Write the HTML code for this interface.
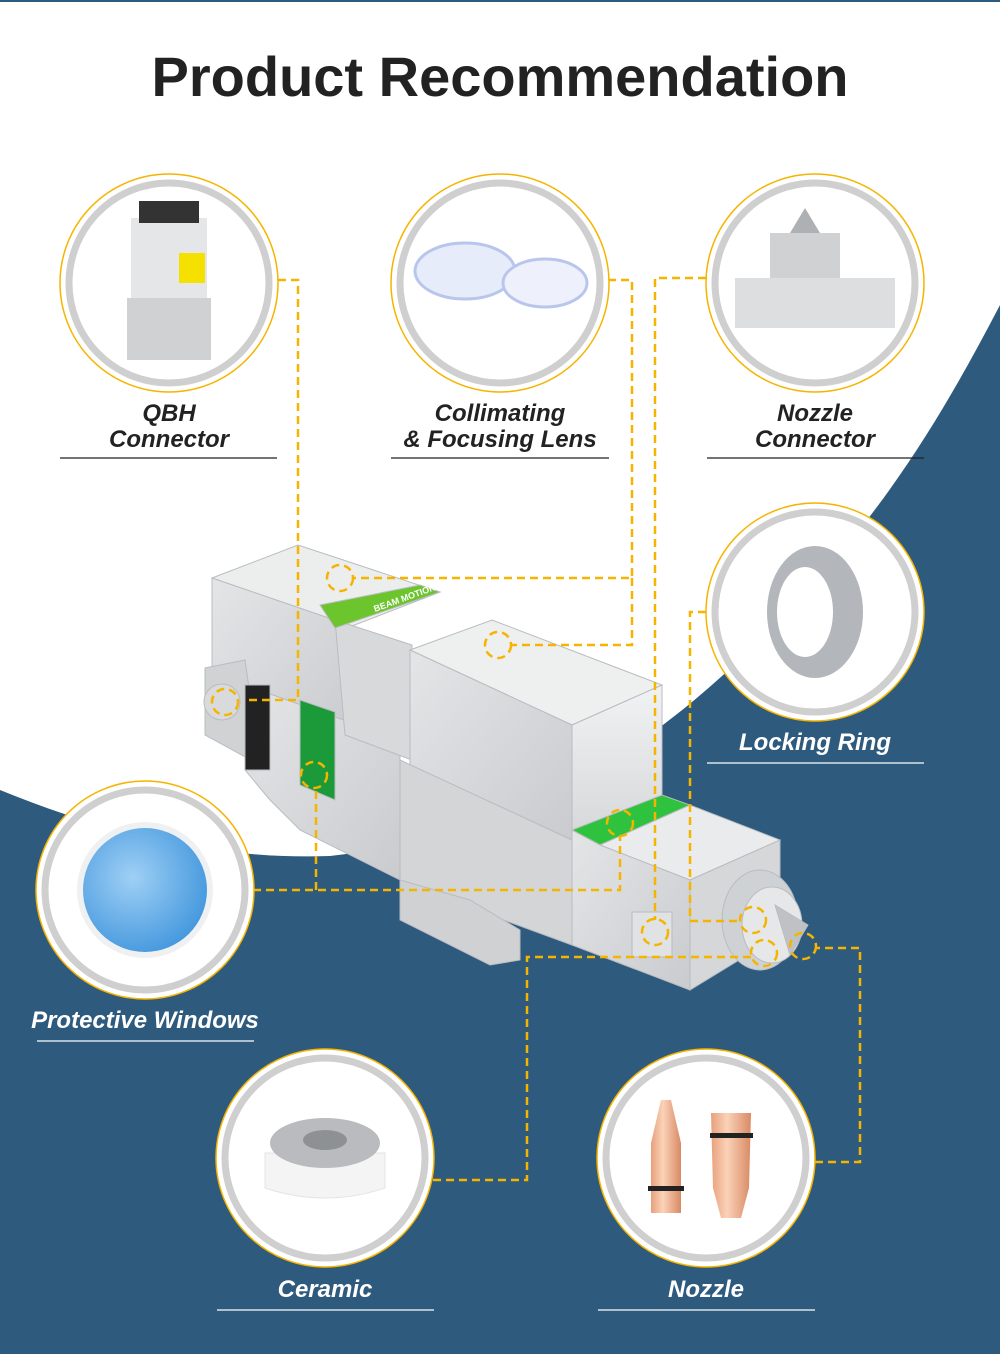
<!DOCTYPE html>
<html><head><meta charset="utf-8"><style>
html,body{margin:0;padding:0;background:#fff}
svg{display:block}
text{font-family:"Liberation Sans","DejaVu Sans",sans-serif}
</style></head><body>
<svg width="1000" height="1354" viewBox="0 0 1000 1354" xmlns="http://www.w3.org/2000/svg">
<defs>
<linearGradient id="al" x1="0" y1="0" x2="1" y2="1"><stop offset="0" stop-color="#e4e5e7"/><stop offset="1" stop-color="#c9cbce"/></linearGradient>
<linearGradient id="al2" x1="0" y1="0" x2="0" y2="1"><stop offset="0" stop-color="#f1f2f3"/><stop offset="1" stop-color="#d6d8da"/></linearGradient>
<linearGradient id="cu" x1="0" y1="0" x2="1" y2="0"><stop offset="0" stop-color="#e7a07c"/><stop offset=".4" stop-color="#fbd2b8"/><stop offset="1" stop-color="#d98a64"/></linearGradient>
<radialGradient id="bl" cx=".4" cy=".4" r=".7"><stop offset="0" stop-color="#9fd0f5"/><stop offset="1" stop-color="#3d93dc"/></radialGradient>
</defs>
<rect width="1000" height="1354" fill="#2e5a7e"/>
<path d="M0,0 L1000,0 L1000,305 C940,420 880,520 770,630 C690,710 560,830 330,856 C220,860 110,835 0,790 Z" fill="#fff"/>
<rect width="1000" height="2" fill="#2e5a7e"/>
<text x="500" y="96" text-anchor="middle" font-size="56" font-weight="bold" fill="#222">Product Recommendation</text>

<!-- machine -->
<g stroke="#b9bcc0" stroke-width="1">
<polygon points="212,578 298,545 440,592 352,626" fill="#eceded"/>
<polygon points="212,578 352,626 352,740 212,690" fill="url(#al)"/>
<polygon points="205,668 245,660 260,765 205,735" fill="#d0d2d4"/>
<polygon points="245,685 400,740 400,880 300,830 270,800 245,770" fill="url(#al)"/>
<rect x="245" y="685" width="25" height="85" fill="#222"/>
<polygon points="300,700 335,712 335,800 300,785" fill="#1c9a3a"/>
<polygon points="335,620 412,645 412,760 345,735" fill="#d7d9db"/>
<polygon points="410,650 492,620 662,685 572,725" fill="#eeefef"/>
<polygon points="410,650 572,725 572,840 410,765" fill="url(#al)"/>
<polygon points="572,725 662,685 662,795 572,835" fill="url(#al2)"/>
<polygon points="400,760 572,840 572,945 490,915 400,880" fill="#d3d5d7"/>
<polygon points="400,880 470,900 520,930 520,960 490,965 400,920" fill="#cfd1d3"/>
<polygon points="572,830 662,795 690,805 600,845" fill="#2fc23f"/>
<polygon points="600,845 690,805 780,840 690,880" fill="#eaebec"/>
<polygon points="572,830 600,845 690,880 690,990 572,945" fill="url(#al)"/>
<polygon points="690,880 780,840 780,935 690,990" fill="#d5d7d9"/>
<polygon points="320,605 420,585 440,592 335,628" fill="#6cc52c"/>
<ellipse cx="760" cy="920" rx="38" ry="50" fill="#cfd2d4"/>
<ellipse cx="772" cy="925" rx="30" ry="38" fill="#e6e7e8"/>
<polygon points="775,905 808,925 790,955" fill="#bfc2c5"/>
<rect x="632" y="912" width="40" height="45" fill="#e0e2e3"/>
<circle cx="222" cy="702" r="18" fill="#d9dadb"/>
</g>
<text x="375" y="612" font-size="9" font-weight="bold" fill="#fff" transform="rotate(-20 375 612)">BEAM MOTION</text>

<!-- dashed connectors -->
<g fill="none" stroke="#f5b400" stroke-width="2.5" stroke-dasharray="8,5">
<path d="M278,280 H298 V700 H245"/>
<path d="M608,280 H632 V578 H353"/>
<path d="M632,578 V645 H511"/>
<path d="M706,278 H655 V920"/>
<path d="M706,612 H690 V921 H740"/>
<path d="M253,890 H620 V836"/>
<path d="M316,890 V788"/>
<path d="M433,1180 H527 V957 H752"/>
<path d="M815,1162 H860 V948 H817"/>
<circle cx="340" cy="578" r="13"/><circle cx="498" cy="645" r="13"/>
<circle cx="314" cy="775" r="13"/><circle cx="620" cy="823" r="13"/>
<circle cx="655" cy="932" r="13"/><circle cx="753" cy="920" r="13"/>
<circle cx="764" cy="953" r="13"/><circle cx="803" cy="946" r="13"/>
<circle cx="225" cy="702" r="13"/>
</g>

<!-- circles -->
<g>
<g transform="translate(169,283)"><circle r="109" fill="#fff" stroke="#f5b400" stroke-width="1.5"/><circle r="100" fill="#fff" stroke="#cfcfcf" stroke-width="7"/>
<rect x="-38" y="-65" width="76" height="80" fill="#e5e6e8"/><rect x="-30" y="-82" width="60" height="22" fill="#333"/><rect x="-42" y="15" width="84" height="62" fill="#cfd1d3"/><rect x="10" y="-30" width="26" height="30" fill="#f5e000"/></g>
<g transform="translate(500,283)"><circle r="109" fill="#fff" stroke="#f5b400" stroke-width="1.5"/><circle r="100" fill="#fff" stroke="#cfcfcf" stroke-width="7"/>
<ellipse cx="-35" cy="-12" rx="50" ry="28" fill="#e6ecfa" stroke="#b9c6ec" stroke-width="3"/><ellipse cx="45" cy="0" rx="42" ry="24" fill="#eef1fb" stroke="#b9c6ec" stroke-width="3"/></g>
<g transform="translate(815,283)"><circle r="109" fill="#fff" stroke="#f5b400" stroke-width="1.5"/><circle r="100" fill="#fff" stroke="#cfcfcf" stroke-width="7"/>
<rect x="-80" y="-5" width="160" height="50" fill="#dcdee0"/><rect x="-45" y="-50" width="70" height="45" fill="#cfd1d3"/><polygon points="-25,-50 -10,-75 5,-50" fill="#aeb1b4"/></g>
<g transform="translate(815,612)"><circle r="109" fill="#fff" stroke="#f5b400" stroke-width="1.5"/><circle r="100" fill="#fff" stroke="#cfcfcf" stroke-width="7"/>
<ellipse cx="0" cy="0" rx="48" ry="66" fill="#b3b6ba"/><ellipse cx="-10" cy="0" rx="28" ry="45" fill="#fff"/></g>
<g transform="translate(145,890)"><circle r="109" fill="#fff" stroke="#f5b400" stroke-width="1.5"/><circle r="100" fill="#fff" stroke="#cfcfcf" stroke-width="7"/>
<circle r="68" fill="#eef0f2"/><circle r="62" fill="url(#bl)"/></g>
<g transform="translate(325,1158)"><circle r="109" fill="#fff" stroke="#f5b400" stroke-width="1.5"/><circle r="100" fill="#fff" stroke="#cfcfcf" stroke-width="7"/>
<path d="M-60,-5 L-60,30 Q0,50 60,30 L60,-5 Z" fill="#f4f4f4" stroke="#e4e4e4"/><ellipse cx="0" cy="-15" rx="55" ry="25" fill="#b9bbbe"/><ellipse cx="0" cy="-18" rx="22" ry="10" fill="#8e9194"/></g>
<g transform="translate(706,1158)"><circle r="109" fill="#fff" stroke="#f5b400" stroke-width="1.5"/><circle r="100" fill="#fff" stroke="#cfcfcf" stroke-width="7"/>
<path d="M-55,-15 L-45,-58 L-35,-58 L-25,-15 L-25,55 L-55,55 Z" fill="url(#cu)"/><path d="M5,-45 L45,-45 L43,30 L35,60 L15,60 L7,30 Z" fill="url(#cu)"/><rect x="-58" y="28" width="36" height="5" fill="#222"/><rect x="4" y="-25" width="43" height="5" fill="#222"/></g>
</g>

<!-- labels -->
<g font-size="24" font-weight="bold" font-style="italic" text-anchor="middle">
<text x="169" y="421" fill="#222">QBH</text><text x="169" y="447" fill="#222">Connector</text>
<text x="500" y="421" fill="#222">Collimating</text><text x="500" y="447" fill="#222">&amp; Focusing Lens</text>
<text x="815" y="421" fill="#222">Nozzle</text><text x="815" y="447" fill="#222">Connector</text>
<text x="815" y="750" fill="#fff">Locking Ring</text>
<text x="145" y="1028" fill="#fff">Protective Windows</text>
<text x="325" y="1297" fill="#fff">Ceramic</text>
<text x="706" y="1297" fill="#fff">Nozzle</text>
</g>
<g stroke-width="1.3">
<line x1="60" y1="458" x2="277" y2="458" stroke="#222"/>
<line x1="391" y1="458" x2="609" y2="458" stroke="#222"/>
<line x1="707" y1="458" x2="924" y2="458" stroke="#222"/>
<line x1="707" y1="763" x2="924" y2="763" stroke="#fff"/>
<line x1="37" y1="1041" x2="254" y2="1041" stroke="#fff"/>
<line x1="217" y1="1310" x2="434" y2="1310" stroke="#fff"/>
<line x1="598" y1="1310" x2="815" y2="1310" stroke="#fff"/>
</g>
</svg>
</body></html>
